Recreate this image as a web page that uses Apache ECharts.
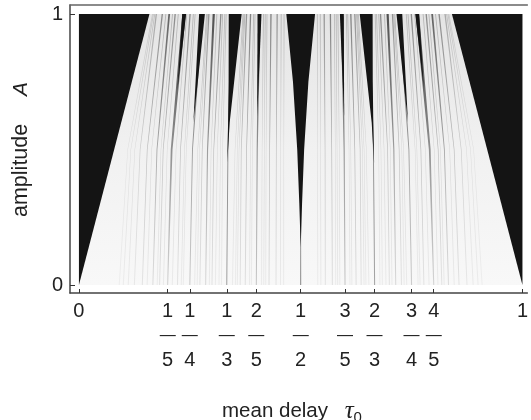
<!DOCTYPE html>
<html><head><meta charset="utf-8">
<script src="https://cdn.jsdelivr.net/npm/echarts@6/dist/echarts.min.js"></script>
<style>html,body{margin:0;padding:0;background:#fff}#c{width:531px;height:420px}</style>
</head><body><div id="c"></div>
<script>
// tick labels
const xTickValues = [0, 1/5, 1/4, 1/3, 2/5, 1/2, 3/5, 2/3, 3/4, 4/5, 1];
const xTickNum = ['0','1','1','1','2','1','3','2','3','4','1'];
const xTickDen = ['', '5','4','3','5','2','5','3','4','5',''];
const yTickValues = [0, 1];

// black mode-locked tongues: polygons of [tau0, A]
const tongue01 = [[0,0],[0.159,1],[0,1]];
const tongue11 = [[1,0],[1,1],[0.841,1]];
const tongue12 = [[0.5,0.14],[0.4969,0.3],[0.4922,0.5],[0.4826,0.75],[0.4676,1],[0.5324,1],[0.5174,0.75],[0.5078,0.5],[0.5031,0.3]];
const tongue13 = [[0.3345,0.45],[0.3363,0.6],[0.3375,0.75],[0.3378,1],[0.3669,1],[0.350,0.75],[0.3399,0.6]];
const tongue23 = [[0.6655,0.45],[0.6637,0.6],[0.6625,0.75],[0.6622,1],[0.6331,1],[0.650,0.75],[0.6601,0.6]];
const tongue14 = [[0.258,0.6],[0.263,0.75],[0.271,1],[0.284,1],[0.268,0.75]];
const tongue34 = [[0.742,0.6],[0.737,0.75],[0.729,1],[0.716,1],[0.732,0.75]];
const tongue15 = [[0.222,0.72],[0.233,1],[0.2416,1]];
const tongue45 = [[0.778,0.72],[0.767,1],[0.7584,1]];
const tongue25 = [[0.402,0.62],[0.4027,1],[0.4116,1]];
const tongue35 = [[0.598,0.62],[0.5973,1],[0.5884,1]];

// higher-order resonance streaks: tau0 at A = 0, 0.5 and 1, width at A = 1, grey at top and bottom
const streakBottom = [0.0909,0.1,0.1111,0.125,0.1429,0.1538,0.1667,0.1765,0.1818,0.1905,0.2,0.2105,0.2222,0.2308,0.2353,0.25,0.2609,0.2667,0.2727,0.2857,0.2941,0.3,0.3077,0.3158,0.3214,0.3333,0.3462,0.3529,0.3571,0.3636,0.375,0.3846,0.3889,0.4,0.4118,0.4167,0.4211,0.4286,0.4444,0.4545,0.4615,0.5,
  0.9091,0.9,0.8889,0.875,0.8571,0.8462,0.8333,0.8235,0.8182,0.8095,0.8,0.7895,0.7778,0.7692,0.7647,0.75,0.7391,0.7333,0.7273,0.7143,0.7059,0.7,0.6923,0.6842,0.6786,0.6667,0.6538,0.6471,0.6429,0.6364,0.625,0.6154,0.6111,0.6,0.5882,0.5833,0.5789,0.5714,0.5556,0.5455,0.5385];
const streakMid = [0.110,0.117,0.126,0.138,0.154,0.164,0.176,0.185,0.190,0.199,0.209,0.219,0.229,0.238,0.242,0.256,0.268,0.272,0.278,0.290,0.298,0.304,0.312,0.319,0.324,0.336,0.352,0.357,0.361,0.366,0.378,0.387,0.391,0.402,0.413,0.418,0.422,0.430,0.445,0.455,0.462,0.5,
  0.890,0.883,0.874,0.862,0.846,0.836,0.824,0.815,0.810,0.801,0.791,0.781,0.771,0.762,0.758,0.744,0.732,0.728,0.722,0.710,0.702,0.696,0.688,0.681,0.676,0.664,0.648,0.643,0.639,0.634,0.622,0.613,0.609,0.598,0.587,0.582,0.578,0.570,0.555,0.545,0.538];
const streakTop = [0.166,0.168,0.171,0.1745,0.188,0.196,0.2036,0.211,0.217,0.224,0.237,0.243,0.2506,0.258,0.262,0.2775,0.288,0.290,0.293,0.304,0.311,0.32,0.324,0.329,0.332,0.345,0.370,0.372,0.374,0.378,0.387,0.394,0.397,0.407,0.416,0.420,0.424,0.433,0.447,0.456,0.4625,0.5,
  0.834,0.832,0.829,0.8255,0.812,0.804,0.7964,0.789,0.783,0.776,0.763,0.757,0.7494,0.742,0.738,0.7225,0.712,0.710,0.707,0.696,0.689,0.68,0.676,0.671,0.668,0.655,0.630,0.628,0.626,0.622,0.613,0.606,0.603,0.593,0.584,0.580,0.576,0.567,0.553,0.544,0.5375];
const streakWidth = [0.002,0.002,0.002,0.003,0.003,0.002,0.004,0.002,0.003,0.002,0.008,0.002,0.003,0.002,0.002,0.004,0.002,0.002,0.003,0.005,0.002,0.003,0.002,0.002,0.002,0.004,0.002,0.002,0.002,0.003,0.003,0.002,0.002,0.005,0.002,0.002,0.002,0.003,0.003,0.002,0.002,0.002,
  0.002,0.002,0.002,0.003,0.003,0.002,0.004,0.002,0.003,0.002,0.008,0.002,0.003,0.002,0.002,0.004,0.002,0.002,0.003,0.005,0.002,0.003,0.002,0.002,0.002,0.004,0.002,0.002,0.002,0.003,0.003,0.002,0.002,0.005,0.002,0.002,0.002,0.003,0.003,0.002,0.002];
const streakGreyTop = [200,195,190,170,140,180,100,180,140,180,60,180,140,180,185,90,180,185,150,80,180,140,180,185,185,100,185,185,180,150,130,180,185,80,180,180,185,130,150,180,185,130,
  200,195,190,170,140,180,100,180,140,180,60,180,140,180,185,90,180,185,150,80,180,140,180,185,185,100,185,185,180,150,130,180,185,80,180,180,185,130,150,180,185];
const streakGreyLow = [238,236,235,232,228,235,222,235,228,235,212,235,228,235,236,205,235,236,228,218,235,228,235,236,236,165,236,236,235,228,225,235,236,200,235,235,236,225,228,235,236,140,
  238,236,235,232,228,235,222,235,228,235,212,235,228,235,236,205,235,236,228,218,235,228,235,236,236,165,236,236,235,228,225,235,236,200,235,235,236,225,228,235,236];

const tongues = [tongue01, tongue11, tongue12, tongue13, tongue23, tongue14, tongue34, tongue15, tongue45, tongue25, tongue35];

const chart = echarts.init(document.getElementById('c'), null, {renderer:'canvas'});
const XMIN = -0.020134, XMAX = 1.011186, YMIN = -0.02952, YMAX = 1.03321;

function fracLabel(v){
  for (let i=0;i<xTickValues.length;i++){
    if (Math.abs(v - xTickValues[i]) < 1e-6){
      if (!xTickDen[i]) return '{n|' + xTickNum[i] + '}';
      return '{n|' + xTickNum[i] + '}\n{b|—}\n{n|' + xTickDen[i] + '}';
    }
  }
  return '';
}
const grey = g => 'rgb(' + g + ',' + g + ',' + g + ')';

chart.setOption({
  animation:false,
  backgroundColor:'#fff',
  grid:{left:70, right:0, top:5, bottom:127},
  xAxis:[{
    type:'value', min:XMIN, max:XMAX, position:'bottom',
    axisLine:{show:true, onZero:false, lineStyle:{color:'#444', width:1.5}},
    splitLine:{show:false},
    axisTick:{show:true, inside:true, length:4, customValues:xTickValues, lineStyle:{color:'#333', width:1}},
    axisLabel:{show:true, customValues:xTickValues, margin:6, formatter:fracLabel,
      rich:{n:{fontFamily:'Liberation Sans', fontSize:20, color:'#222', lineHeight:24.5, align:'center'},
            b:{fontFamily:'Liberation Sans', fontSize:16, color:'#222', lineHeight:24.5, align:'center'}}}
  },{
    type:'value', min:XMIN, max:XMAX, position:'top',
    axisLine:{show:true, onZero:false, lineStyle:{color:'#666', width:1.5}},
    axisTick:{show:false}, axisLabel:{show:false}, splitLine:{show:false}
  }],
  yAxis:{
    type:'value', min:YMIN, max:YMAX,
    axisLine:{show:true, onZero:false, lineStyle:{color:'#444', width:1.5}},
    splitLine:{show:false},
    axisTick:{show:true, inside:true, length:5, customValues:yTickValues, lineStyle:{color:'#333', width:1}},
    axisLabel:{show:true, customValues:yTickValues, margin:7, fontFamily:'Liberation Sans', fontSize:20, color:'#222',
      formatter: v => (Math.abs(v-1)<1e-6 ? '1' : (Math.abs(v)<1e-6 ? '0' : ''))}
  },
  series:[
    { // quasi-periodic region background
      type:'custom', xAxisIndex:0, yAxisIndex:0, silent:true,
      data:[[0,0]],
      renderItem:(p, api) => {
        const a = api.coord([0,0]), b = api.coord([1,1]);
        return {type:'rect', shape:{x:a[0], y:b[1], width:b[0]-a[0], height:a[1]-b[1]},
          style:{fill:new echarts.graphic.LinearGradient(0,0,0,1,[{offset:0,color:'#e4e4e4'},{offset:0.5,color:'#f1f1f1'},{offset:1,color:'#f8f8f8'}])}};
      }
    },
    { // grey streaks
      type:'custom', xAxisIndex:0, yAxisIndex:0, silent:true,
      data: streakBottom.map((v,i)=>[v]),
      renderItem:(p, api) => {
        const i = p.dataIndex, w = streakWidth[i];
        const pts = [api.coord([streakBottom[i]-0.0012,0]), api.coord([streakMid[i]-w/4,0.5]), api.coord([streakTop[i]-w/2,1]),
                     api.coord([streakTop[i]+w/2,1]), api.coord([streakMid[i]+w/4,0.5]), api.coord([streakBottom[i]+0.0012,0])];
        const gt = streakGreyTop[i], gl = streakGreyLow[i];
        return {type:'polygon', shape:{points:pts},
          style:{fill:new echarts.graphic.LinearGradient(0,0,0,1,[{offset:0,color:grey(gt)},{offset:0.6,color:grey(Math.round((gt+gl*2)/3))},{offset:1,color:grey(gl)}])}};
      }
    },
    { // black tongues
      type:'custom', xAxisIndex:0, yAxisIndex:0, silent:true,
      data: tongues.map((t,i)=>[i]),
      renderItem:(p, api) => {
        const t = tongues[p.dataIndex];
        return {type:'polygon', shape:{points:t.map(q=>api.coord(q))}, style:{fill:'#141414'}};
      }
    }
  ],
  graphic:[
    {type:'text', x:222, y:398,
      style:{text:'{t|mean delay}{s|   }{i|τ}{sub|0}', rich:{
        t:{fontFamily:'Liberation Sans', fontSize:20.5, fill:'#222'},
        s:{fontFamily:'Liberation Sans', fontSize:20},
        i:{fontFamily:'Liberation Serif', fontStyle:'italic', fontSize:25, fill:'#222'},
        sub:{fontFamily:'Liberation Sans', fontSize:15, fill:'#222', padding:[12,0,0,0]}}}},
    {type:'text', x:10, y:217, rotation:Math.PI/2,
      style:{text:'{t|amplitude}{s|     }{i|A}', rich:{
        t:{fontFamily:'Liberation Sans', fontSize:21.5, fill:'#222'},
        s:{fontFamily:'Liberation Sans', fontSize:20},
        i:{fontFamily:'Liberation Sans', fontStyle:'italic', fontSize:21, fill:'#222'}}}}
  ]
});
</script></body></html>
